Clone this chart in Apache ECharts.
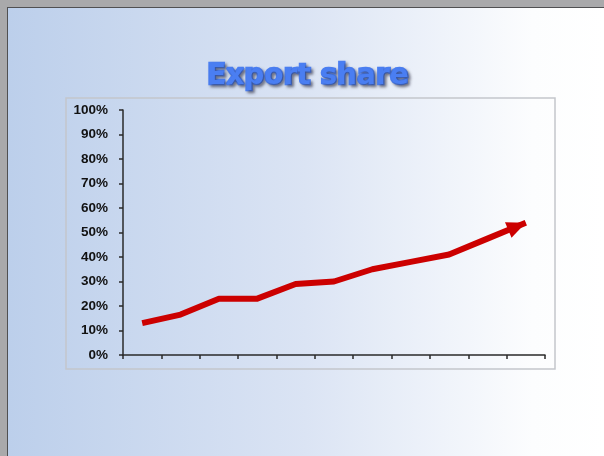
<!DOCTYPE html>
<html>
<head>
<meta charset="utf-8">
<script src="https://cdn.jsdelivr.net/npm/echarts@6/dist/echarts.min.js"></script>
<style>
    html, body { margin: 0; padding: 0; }
    #chart { width: 604px; height: 456px; }
</style>
</head>
<body>
<div id="chart"></div>
<script>
// data
const periods = ["1", "2", "3", "4", "5", "6", "7", "8", "9", "10", "11"];
const exportShare = [0.13, 0.165, 0.23, 0.23, 0.29, 0.30, 0.35, 0.38, 0.41, 0.475, 0.54];
const yTicks = [0, 0.1, 0.2, 0.3, 0.4, 0.5, 0.6, 0.7, 0.8, 0.9, 1];

const chart = echarts.init(document.getElementById("chart"));
const last = periods.length - 1;
const arrowSize = [17, 19];

const option = {
    animation: false,
    backgroundColor: "#a9a9ab",
    graphic: [
        {
            type: "rect",
            z: -20,
            silent: true,
            shape: { x: 7, y: 7, width: 597, height: 449 },
            style: { fill: "#505052" },
        },
        {
            type: "rect",
            z: -19,
            silent: true,
            shape: { x: 8, y: 8, width: 596, height: 448 },
            style: {
                fill: new echarts.graphic.LinearGradient(0, 0, 1, 0, [
                    { offset: 0, color: "#bccfeb" },
                    { offset: 0.5, color: "#dbe4f4" },
                    { offset: 0.88, color: "#fcfdfe" },
                    { offset: 1, color: "#ffffff" },
                ]),
            },
        },
        {
            type: "rect",
            z: -18,
            silent: true,
            shape: { x: 66, y: 98, width: 489, height: 271 },
            style: { fill: "transparent", stroke: "#c3c6cc", lineWidth: 1.5 },
        },
    ],
    title: {
        text: "Export share",
        left: 207,
        top: 63,
        padding: 0,
        textStyle: {
            fontFamily: "DejaVu Sans",
            fontSize: 28,
            fontWeight: "bold",
            color: "#4a7ef2",
            textBorderColor: "#4a7ef2",
            textBorderWidth: 2.5,
            textShadowColor: "rgba(40,40,60,0.5)",
            textShadowBlur: 3,
            textShadowOffsetX: 2,
            textShadowOffsetY: 2,
        },
    },
    grid: {
        left: 123,
        right: 59,
        top: 110,
        bottom: 101,
        containLabel: false,
    },
    xAxis: {
        type: "category",
        data: periods,
        boundaryGap: true,
        axisLine: { lineStyle: { color: "#2a2a2a", width: 1.5 } },
        axisTick: { show: true, interval: 0, length: 4, lineStyle: { color: "#2a2a2a", width: 1.5 } },
        axisLabel: { show: false },
        splitLine: { show: false },
    },
    yAxis: {
        type: "value",
        min: yTicks[0],
        max: yTicks[yTicks.length - 1],
        interval: 0.1,
        axisLine: { show: true, lineStyle: { color: "#2a2a2a", width: 1.5 } },
        axisTick: { show: true, length: 4, lineStyle: { color: "#2a2a2a", width: 1.5 } },
        axisLabel: {
            margin: 15,
            fontFamily: "Liberation Sans",
            fontSize: 13.5,
            fontWeight: "bold",
            color: "#111",
            formatter: (v) => Math.round(v * 100) + "%",
        },
        splitLine: { show: false },
    },
    series: [
        {
            type: "line",
            data: exportShare,
            symbol: "none",
            itemStyle: { color: "#cc0000" },
            lineStyle: { color: "#cc0000", width: 6, cap: "butt", join: "round" },
        },
    ],
};

chart.setOption(option);

// arrow head on the last point, turned along the last segment
const p1 = chart.convertToPixel({ gridIndex: 0 }, [last - 1, exportShare[last - 1]]);
const p2 = chart.convertToPixel({ gridIndex: 0 }, [last, exportShare[last]]);
const dx = p2[0] - p1[0];
const dy = p2[1] - p1[1];
const len = Math.sqrt(dx * dx + dy * dy);
const rot = (Math.atan2(-dy, dx) * 180) / Math.PI - 90;
const seriesData = exportShare.map((v, i) => {
    if (i !== last) return v;
    return {
        value: v,
        symbol: "triangle",
        symbolSize: arrowSize,
        symbolRotate: rot,
        symbolOffset: [(-dx / len) * arrowSize[1] / 2, (-dy / len) * arrowSize[1] / 2],
    };
});
chart.setOption({ series: [{ data: seriesData }] });
</script>
</body>
</html>
